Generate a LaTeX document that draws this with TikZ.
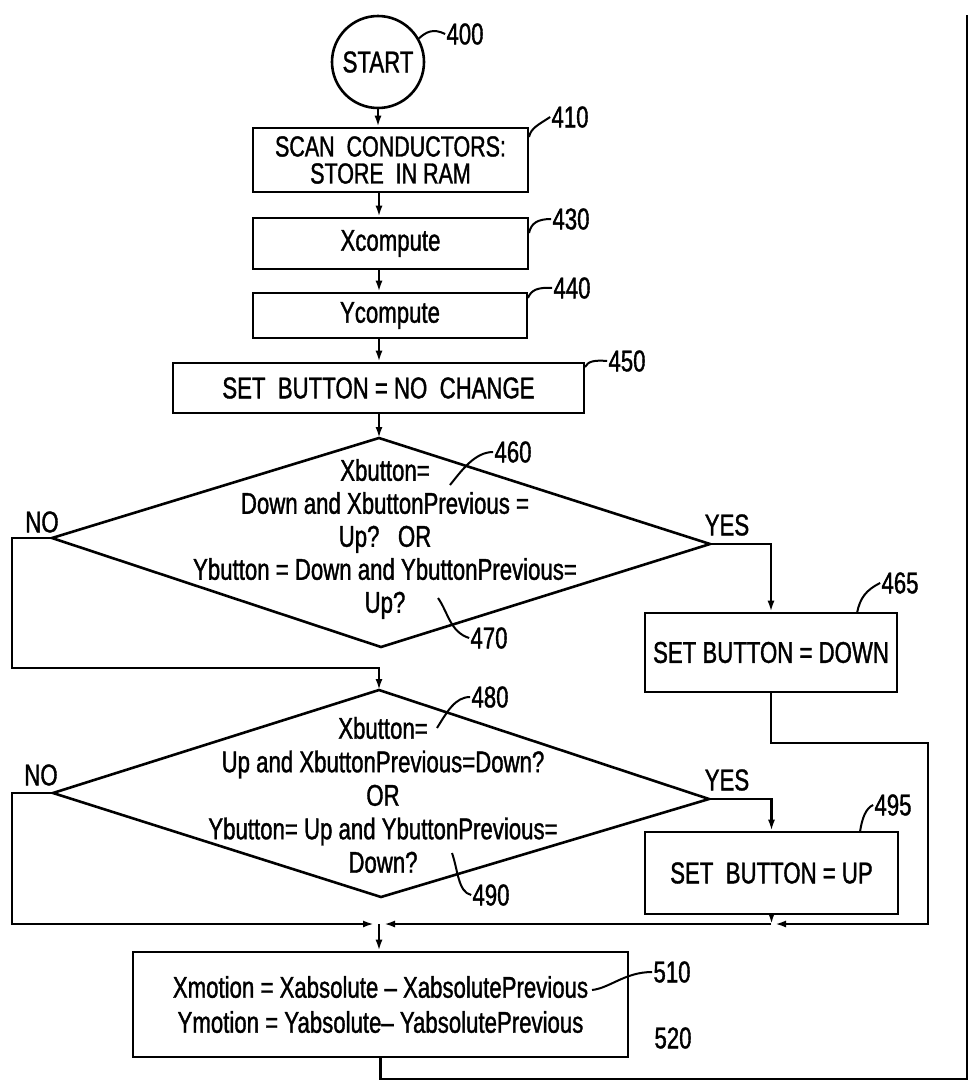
\documentclass[tikz,border=0pt]{standalone}
\usepackage{fontspec}
\setmainfont{Liberation Sans}[FakeStretch=0.74,FakeBold=1.2]
\usetikzlibrary{arrows.meta}
\begin{document}
\begin{tikzpicture}[x=1pt,y=-1pt,line width=2.6pt,
  every node/.style={font=\fontsize{30}{33}\selectfont,inner sep=0pt},
  box/.style={draw,rectangle,align=center},
  arr/.style={-{Latex[length=11pt,width=7pt]}},
  lead/.style={line width=2pt},
  num/.style={font=\fontsize{30}{33}\selectfont}]
\useasboundingbox (0,0) rectangle (969,1082);
\fill[white] (0,0) rectangle (969,1082);

% nodes
\node[draw,circle,minimum size=92pt] (start) at (378,62) {START};
\node[box,minimum width=275pt,minimum height=64pt,font=\fontsize{29}{27}\selectfont] (b410) at (390.5,160) {SCAN\ \ CONDUCTORS:\\ STORE\ \ IN RAM};
\node[box,minimum width=275pt,minimum height=51pt] (b430) at (390.5,243.5) {Xcompute};
\node[box,minimum width=274pt,minimum height=45pt] (b440) at (390,315.5) {Ycompute};
\node[box,minimum width=411pt,minimum height=50pt] (b450) at (378.5,388) {SET\ \ BUTTON = NO\ \ CHANGE};
\node[box,minimum width=252pt,minimum height=79pt] (b465) at (771,652.5) {SET BUTTON = DOWN};
\node[box,minimum width=253pt,minimum height=82pt] (b495) at (771.5,873) {SET\ \ BUTTON = UP};
\node[box,minimum width=495pt,minimum height=105pt,font=\fontsize{30}{35}\selectfont] (b510) at (380.5,1004.5) {Xmotion = Xabsolute -- XabsolutePrevious\\ Ymotion = Yabsolute-- YabsolutePrevious};

% diamonds
\coordinate (d1t) at (379,438);
\coordinate (d1l) at (52,538);
\coordinate (d1r) at (710,544);
\coordinate (d1b) at (381,647);
\coordinate (d2t) at (379,690);
\coordinate (d2l) at (53,793);
\coordinate (d2r) at (709,799);
\coordinate (d2b) at (381,897);
\draw[line join=miter] (d1t) -- (d1r) -- (d1b) -- (d1l) -- cycle;
\draw[line join=miter] (d2t) -- (d2r) -- (d2b) -- (d2l) -- cycle;
\node[align=center] (t460) at (385,539) {Xbutton=\\ Down and XbuttonPrevious =\\ Up?\ \ \ OR\\ Ybutton = Down and YbuttonPrevious=\\ Up?};
\node[align=center,font=\fontsize{30}{33.5}\selectfont] (t480) at (383,795) {Xbutton=\\ Up and XbuttonPrevious=Down?\\ OR\\ Ybutton= Up and YbuttonPrevious=\\ Down?};

% branch labels
\node (no1) at (42,522) {NO};
\node (yes1) at (727,525) {YES};
\node (no2) at (41,775) {NO};
\node (yes2) at (727,780) {YES};

% helper coordinates
\coordinate (k1) at (12,668);
\coordinate (k2) at (12,924);
\coordinate (r1) at (928,743);
\coordinate (jr) at (775,924);
\coordinate (j) at (771,924);
\coordinate (m) at (379,924);
\coordinate (ml) at (374,924);
\coordinate (mr) at (384,924);
\coordinate (lp1) at (967,1079);
\coordinate (lp2) at (967,15);

% connectors
\draw[arr] (start.south) -- (start.south |- b410.north);
\draw[arr] (d1t |- b410.south) -- (d1t |- b430.north);
\draw[arr] (d1t |- b430.south) -- (d1t |- b440.north);
\draw[arr] (d1t |- b440.south) -- (d1t |- b450.north);
\draw[arr] (d1t |- b450.south) -- (d1t);
\draw[arr] (d1l) -| (k1) -| (d2t);
\draw[arr] (d1r) -| (b465.north);
\draw[arr] (b465.south) |- (r1) |- (jr);
\draw[arr] (d2r) -| (b495.north);
\draw[arr] (b495.south) -- (b495.south |- j);
\draw[arr] (j) -- (mr);
\draw[arr] (d2l) -| (k2) -- (ml);
\draw[arr] (m) -- (m |- b510.north);
\draw (b510.south) |- (lp1) -- (lp2);

% reference numerals
\node (l400) at (465,34) {400};
\node (l410) at (570,117) {410};
\node (l430) at (571,219) {430};
\node (l440) at (572,288) {440};
\node (l450) at (627,361) {450};
\node (l460) at (513,452) {460};
\node (l470) at (489,638) {470};
\node (l465) at (900,583) {465};
\node (l480) at (490,697) {480};
\node (l490) at (491,895) {490};
\node (l495) at (893,805) {495};
\node (l510) at (672,972) {510};
\node (l520) at (673,1038) {520};

% leaders
\draw[lead] (start.30) .. controls (426,32) and (433,28) .. (l400.west);
\draw[lead] (529,137) .. controls (531,128) and (538,125) .. (l410.west);
\draw[lead] (529,233) .. controls (531,223) and (538,219) .. (l430.west);
\draw[lead] (528,298) .. controls (531,290) and (538,287) .. (l440.west);
\draw[lead] (585,367) .. controls (588,361) and (595,360) .. (l450.west);
\draw[lead] (450,485) .. controls (462,470) and (475,452) .. (l460.west);
\draw[lead] (438,598) .. controls (448,612) and (450,632) .. (l470.west);
\draw[lead] (857,613) .. controls (860,598) and (866,590) .. (l465.west);
\draw[lead] (437,728) .. controls (447,712) and (455,697) .. (l480.west);
\draw[lead] (452,853) .. controls (458,870) and (458,892) .. (l490.west);
\draw[lead] (860,832) .. controls (862,818) and (866,808) .. (l495.west);
\draw[lead] (592,990) .. controls (610,988) and (625,972) .. (l510.west);
\end{tikzpicture}
\end{document}
